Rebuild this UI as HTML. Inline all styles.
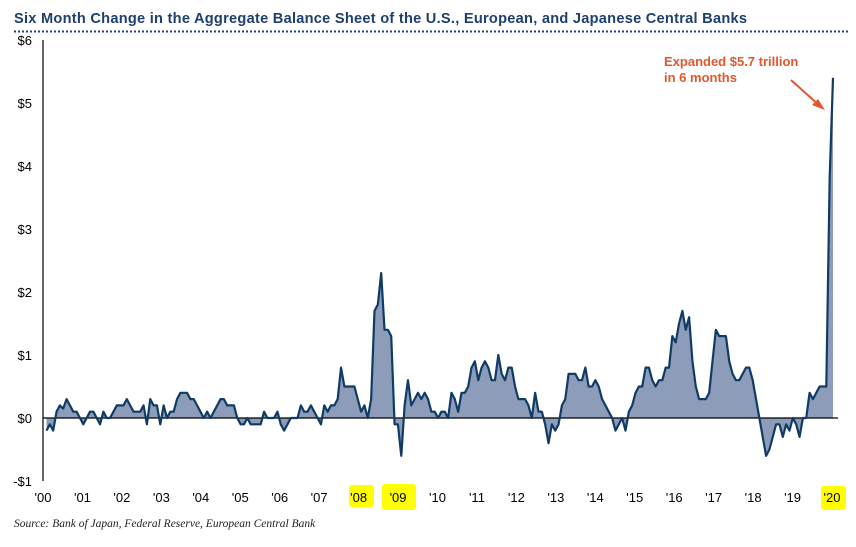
<!DOCTYPE html>
<html><head><meta charset="utf-8"><style>
body{margin:0;background:#fff;width:856px;height:542px;overflow:hidden;font-family:"Liberation Sans",sans-serif}
</style></head><body>
<svg width="856" height="542" xmlns="http://www.w3.org/2000/svg">
<text x="14" y="23" font-family="Liberation Sans" font-weight="bold" font-size="14.6" fill="#1f3f6e" textLength="733">Six Month Change in the Aggregate Balance Sheet of the U.S., European, and Japanese Central Banks</text>
<line x1="14" y1="31.5" x2="848" y2="31.5" stroke="#1f3f6e" stroke-width="2" stroke-dasharray="2,2"/>
<g id="hl">
<rect x="349" y="485" width="25" height="22" rx="3" fill="#ffff00"/>
<rect x="382" y="484" width="34" height="26" rx="3" fill="#ffff00"/>
<rect x="821" y="486" width="25" height="24" rx="3" fill="#ffff00"/>
</g>
<g id="plot"></g>
<g id="yax"></g>
<g id="xax"></g>
<text x="664" y="66" font-weight="bold" font-size="13" fill="#e4572e">Expanded $5.7 trillion</text>
<text x="664" y="82" font-weight="bold" font-size="13" fill="#e4572e">in 6 months</text>
<line x1="791" y1="80" x2="820" y2="106" stroke="#e4572e" stroke-width="2"/>
<polygon points="825,110 812,105 818,99" fill="#e4572e"/>
<text x="14" y="527" font-family="Liberation Serif" font-style="italic" font-size="11.5" fill="#222">Source: Bank of Japan, Federal Reserve, European Central Bank</text>
</svg>
<script>
const yTicks=[6,5,4,3,2,1,0,-1];
const yTickLabels=["$6","$5","$4","$3","$2","$1","$0","-$1"];
const xTickLabels=["'00","'01","'02","'03","'04","'05","'06","'07","'08","'09","'10","'11","'12","'13","'14","'15","'16","'17","'18","'19","'20"];
const v2000=[-0.2,-0.1,-0.2,0.1,0.2,0.15,0.3,0.2,0.1,0.1,0.0,-0.1];
const v2001=[0,0.1,0.1,0.0,-0.1,0.1,0,0,0.1,0.2,0.2,0.2];
const v2002=[0.3,0.2,0.1,0.1,0.1,0.2,-0.1,0.3,0.2,0.2,-0.1,0.2];
const v2003=[0,0.1,0.1,0.3,0.4,0.4,0.4,0.3,0.3,0.2,0.1,0];
const v2004=[0.1,0,0.1,0.2,0.3,0.3,0.2,0.2,0.2,0,-0.1,-0.1];
const v2005=[0,-0.1,-0.1,-0.1,-0.1,0.1,0,0,0,0.1,-0.1,-0.2];
const v2006=[-0.1,0,0,0,0.2,0.1,0.1,0.2,0.1,0,-0.1,0.2];
const v2007=[0.1,0.2,0.2,0.3,0.8,0.5,0.5,0.5,0.5,0.3,0.1,0.2];
const v2008=[0,0.3,1.7,1.8,2.3,1.4,1.4,1.3,-0.1,-0.1,-0.6,0.2];
const v2009=[0.6,0.2,0.3,0.4,0.3,0.4,0.3,0.1,0.1,0.0,0.1,0.1];
const v2010=[0,0.4,0.3,0.1,0.4,0.4,0.5,0.8,0.9,0.6,0.8,0.9];
const v2011=[0.8,0.6,0.6,1.0,0.7,0.6,0.8,0.8,0.5,0.3,0.3,0.3];
const v2012=[0.2,0.0,0.4,0.1,0.1,-0.1,-0.4,-0.1,-0.2,-0.1,0.2,0.3];
const v2013=[0.7,0.7,0.7,0.6,0.6,0.8,0.5,0.5,0.6,0.5,0.3,0.2];
const v2014=[0.1,0,-0.2,-0.1,0,-0.2,0.1,0.2,0.4,0.5,0.5,0.8];
const v2015=[0.8,0.6,0.5,0.6,0.6,0.8,0.8,1.3,1.2,1.5,1.7,1.4];
const v2016=[1.6,0.9,0.5,0.3,0.3,0.3,0.4,0.9,1.4,1.3,1.3,1.3];
const v2017=[0.9,0.7,0.6,0.6,0.7,0.8,0.8,0.6,0.3,0,-0.3,-0.6];
const v2018=[-0.5,-0.3,-0.1,-0.1,-0.3,-0.1,-0.2,0,-0.1,-0.3,0,0];
const v2019=[0.4,0.3,0.4,0.5,0.5,0.5,3.8,5.4];
const values=[].concat(v2000,v2001,v2002,v2003,v2004,v2005,v2006,v2007,v2008,v2009,v2010,v2011,v2012,v2013,v2014,v2015,v2016,v2017,v2018,v2019);
const NS="http://www.w3.org/2000/svg";
const X0=46.5,X1=833;
const yScale=v=>418-v*63;
const xScale=i=>X0+i*(X1-X0)/(values.length-1);
const xLab=k=>43+k*39.45;
function mk(t,a){const e=document.createElementNS(NS,t);for(const k in a)e.setAttribute(k,a[k]);return e;}
const plot=document.getElementById('plot');
let d='M'+xScale(0)+','+yScale(0);
values.forEach((v,i)=>{d+=' L'+xScale(i).toFixed(2)+','+yScale(v).toFixed(2);});
d+=' L'+xScale(values.length-1)+','+yScale(0)+' Z';
const area=mk('path',{d:d,fill:'#8d9cb8'});


plot.appendChild(area);
const zero=mk('line',{x1:43,x2:838,y1:yScale(0),y2:yScale(0),stroke:'#000','stroke-width':1.3});


plot.appendChild(zero);
const line=mk('polyline',{points:values.map((v,i)=>xScale(i).toFixed(2)+','+yScale(v).toFixed(2)).join(' '),fill:'none',stroke:'#0f3b66','stroke-width':2.2,'stroke-linejoin':'round'});


plot.appendChild(line);
const yax=document.getElementById('yax');
const ax=mk('line',{x1:43,x2:43,y1:40,y2:481,stroke:'#000','stroke-width':1.2});


yax.appendChild(ax);
yTicks.forEach((t,k)=>{const tx=mk('text',{x:32,y:yScale(t)+5,'text-anchor':'end','font-size':13,fill:'#000'});tx.textContent=yTickLabels[k];


yax.appendChild(tx);});
const xax=document.getElementById('xax');
xTickLabels.forEach((l,k)=>{const tx=mk('text',{x:xLab(k),y:502,'text-anchor':'middle','font-size':13,fill:'#000'});tx.textContent=l;


xax.appendChild(tx);});
</script>
</body></html>
